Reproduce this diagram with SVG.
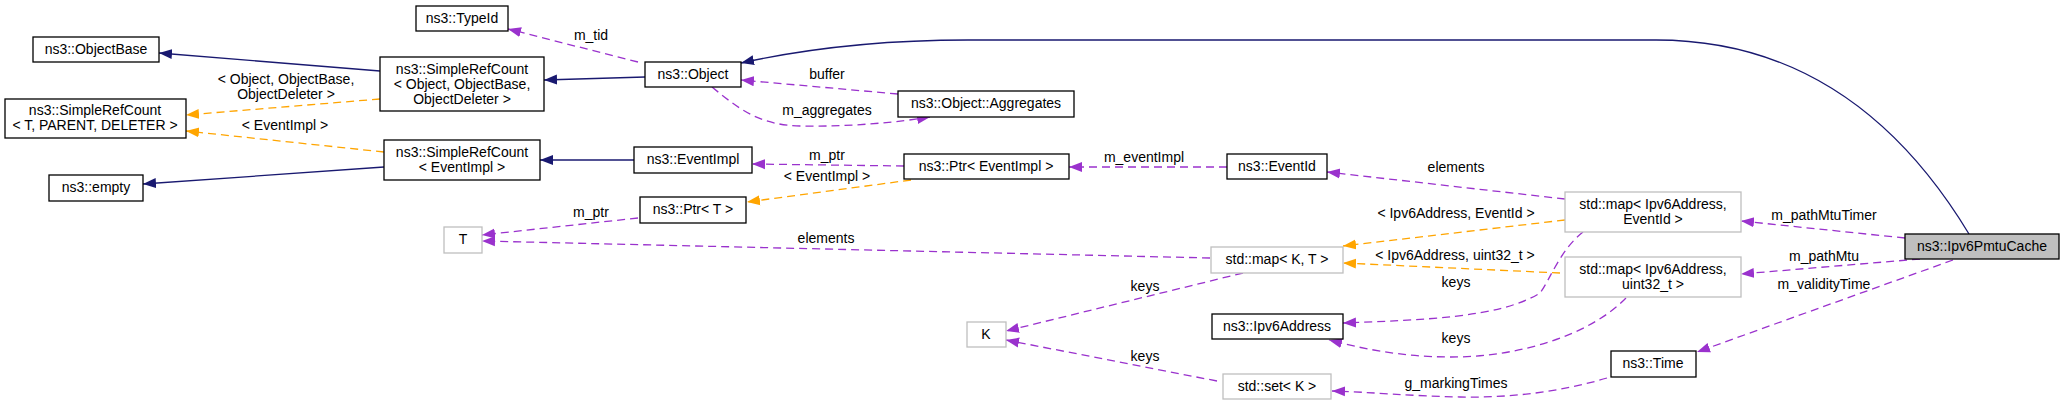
<svg xmlns="http://www.w3.org/2000/svg" width="2064" height="405" viewBox="0 0 2064 405">
<style>
text{font-family:"Liberation Sans",Arial,sans-serif;font-size:14px;fill:#000;text-anchor:middle}
.n rect{fill:#fff;stroke:#000;stroke-width:1.3}
.g rect{fill:#fff;stroke:#bfbfbf;stroke-width:1.3}
.e path{fill:none;stroke-width:1.3}
.inh{stroke:#191970}
.tpl{stroke:#ffa500;stroke-dasharray:8,5}
.mem{stroke:#9a32cd;stroke-dasharray:8,5}
</style>
<defs>
<marker id="an" markerUnits="userSpaceOnUse" markerWidth="14" markerHeight="12" refX="13" refY="6" orient="auto"><path d="M0,1 L13,6 L0,11 Z" fill="#191970"/></marker>
<marker id="ao" markerUnits="userSpaceOnUse" markerWidth="14" markerHeight="12" refX="13" refY="6" orient="auto"><path d="M0,1 L13,6 L0,11 Z" fill="#ffa500"/></marker>
<marker id="ap" markerUnits="userSpaceOnUse" markerWidth="14" markerHeight="12" refX="13" refY="6" orient="auto"><path d="M0,1 L13,6 L0,11 Z" fill="#9a32cd"/></marker>
</defs>
<g id="connectors" class="e">
<path class="inh" d="M380,71 L159,53" marker-end="url(#an)"/>
<path class="inh" d="M645,77 L544,80" marker-end="url(#an)"/>
<path class="inh" d="M384,167 L143,184" marker-end="url(#an)"/>
<path class="inh" d="M634,160 L540,160" marker-end="url(#an)"/>
<path class="inh" d="M1969,234 C1900,120 1800,40 1656,40 L968,40 C880,40 800,50 741,63" marker-end="url(#an)"/>
<path class="tpl" d="M380,99 L186,115" marker-end="url(#ao)"/>
<path class="tpl" d="M384,152 L186,131" marker-end="url(#ao)"/>
<path class="tpl" d="M911,180 L747,202" marker-end="url(#ao)"/>
<path class="tpl" d="M1565,220 L1343,246" marker-end="url(#ao)"/>
<path class="tpl" d="M1560,273 L1343,263" marker-end="url(#ao)"/>
<path class="mem" d="M638,62 L508,29" marker-end="url(#ap)"/>
<path class="mem" d="M898,94 L741,80" marker-end="url(#ap)"/>
<path class="mem" d="M712,87 C740,110 760,125 800,126 C850,127 900,122 930,117" marker-end="url(#ap)"/>
<path class="mem" d="M904,166 L752,164" marker-end="url(#ap)"/>
<path class="mem" d="M1227,167 L1069,167" marker-end="url(#ap)"/>
<path class="mem" d="M638,218 L482,235" marker-end="url(#ap)"/>
<path class="mem" d="M1210,258 L482,241" marker-end="url(#ap)"/>
<path class="mem" d="M1243,273 L1006,331" marker-end="url(#ap)"/>
<path class="mem" d="M1217,381 L1006,340" marker-end="url(#ap)"/>
<path class="mem" d="M1565,199 L1327,172" marker-end="url(#ap)"/>
<path class="mem" d="M1583,232 C1560,250 1550,280 1540,293 C1500,318 1420,320 1343,323" marker-end="url(#ap)"/>
<path class="mem" d="M1626,298 C1590,335 1520,357 1451,357 C1400,357 1360,348 1329,340" marker-end="url(#ap)"/>
<path class="mem" d="M1905,238 L1741,221" marker-end="url(#ap)"/>
<path class="mem" d="M1920,259 L1741,274" marker-end="url(#ap)"/>
<path class="mem" d="M1953,260 L1697,352" marker-end="url(#ap)"/>
<path class="mem" d="M1607,378 C1560,392 1510,398 1460,397 C1410,396 1370,392 1332,391" marker-end="url(#ap)"/>
</g>
<g id="edge-labels">
<text x="591" y="40">m_tid</text>
<text x="286" y="84">&lt; Object, ObjectBase,</text>
<text x="286" y="99">ObjectDeleter &gt;</text>
<text x="285" y="130">&lt; EventImpl &gt;</text>
<text x="827" y="79">buffer</text>
<text x="827" y="115">m_aggregates</text>
<text x="827" y="160">m_ptr</text>
<text x="827" y="181">&lt; EventImpl &gt;</text>
<text x="1144" y="162">m_eventImpl</text>
<text x="591" y="217">m_ptr</text>
<text x="826" y="243">elements</text>
<text x="1145" y="291">keys</text>
<text x="1145" y="361">keys</text>
<text x="1456" y="172">elements</text>
<text x="1456" y="218">&lt; Ipv6Address, EventId &gt;</text>
<text x="1455" y="260">&lt; Ipv6Address, uint32_t &gt;</text>
<text x="1456" y="287">keys</text>
<text x="1456" y="343">keys</text>
<text x="1824" y="220">m_pathMtuTimer</text>
<text x="1824" y="261">m_pathMtu</text>
<text x="1824" y="289">m_validityTime</text>
<text x="1456" y="388">g_markingTimes</text>
</g>
<g id="TypeId" class="n"><rect x="416" y="6" width="92" height="25"/><text x="462" y="23">ns3::TypeId</text></g>
<g id="ObjectBase" class="n"><rect x="33" y="37" width="126" height="25"/><text x="96" y="54">ns3::ObjectBase</text></g>
<g id="SRCObject" class="n"><rect x="380" y="57" width="164" height="54"/><text x="462" y="74">ns3::SimpleRefCount</text><text x="462" y="89">&lt; Object, ObjectBase,</text><text x="462" y="104">ObjectDeleter &gt;</text></g>
<g id="SRCTPD" class="n"><rect x="5" y="99" width="181" height="39"/><text x="95" y="115">ns3::SimpleRefCount</text><text x="95" y="130">&lt; T, PARENT, DELETER &gt;</text></g>
<g id="SRCEventImpl" class="n"><rect x="384" y="140" width="156" height="40"/><text x="462" y="157">ns3::SimpleRefCount</text><text x="462" y="172">&lt; EventImpl &gt;</text></g>
<g id="empty" class="n"><rect x="49" y="175" width="94" height="26"/><text x="96" y="192">ns3::empty</text></g>
<g id="T" class="g"><rect x="444" y="227" width="38" height="26"/><text x="463" y="244">T</text></g>
<g id="Object" class="n"><rect x="645" y="62" width="96" height="25"/><text x="693" y="79">ns3::Object</text></g>
<g id="Aggregates" class="n"><rect x="898" y="91" width="176" height="26"/><text x="986" y="108">ns3::Object::Aggregates</text></g>
<g id="EventImpl" class="n"><rect x="634" y="147" width="118" height="26"/><text x="693" y="164">ns3::EventImpl</text></g>
<g id="PtrEventImpl" class="n"><rect x="904" y="154" width="165" height="25"/><text x="986" y="171">ns3::Ptr&lt; EventImpl &gt;</text></g>
<g id="EventId" class="n"><rect x="1227" y="154" width="100" height="25"/><text x="1277" y="171">ns3::EventId</text></g>
<g id="PtrT" class="n"><rect x="640" y="197" width="106" height="26"/><text x="693" y="214">ns3::Ptr&lt; T &gt;</text></g>
<g id="mapKT" class="g"><rect x="1211" y="247" width="132" height="26"/><text x="1277" y="264">std::map&lt; K, T &gt;</text></g>
<g id="K" class="g"><rect x="967" y="322" width="39" height="25"/><text x="986" y="339">K</text></g>
<g id="Ipv6Address" class="n"><rect x="1212" y="314" width="131" height="25"/><text x="1277" y="331">ns3::Ipv6Address</text></g>
<g id="setK" class="g"><rect x="1223" y="374" width="108" height="25"/><text x="1277" y="391">std::set&lt; K &gt;</text></g>
<g id="mapEv" class="g"><rect x="1565" y="192" width="176" height="40"/><text x="1653" y="209">std::map&lt; Ipv6Address,</text><text x="1653" y="224">EventId &gt;</text></g>
<g id="mapU" class="g"><rect x="1565" y="257" width="176" height="40"/><text x="1653" y="274">std::map&lt; Ipv6Address,</text><text x="1653" y="289">uint32_t &gt;</text></g>
<g id="Ipv6PmtuCache" class="n"><rect x="1905" y="234" width="154" height="25" style="fill:#bfbfbf"/><text x="1982" y="251">ns3::Ipv6PmtuCache</text></g>
<g id="Time" class="n"><rect x="1611" y="351" width="85" height="26"/><text x="1653" y="368">ns3::Time</text></g>
</svg>
